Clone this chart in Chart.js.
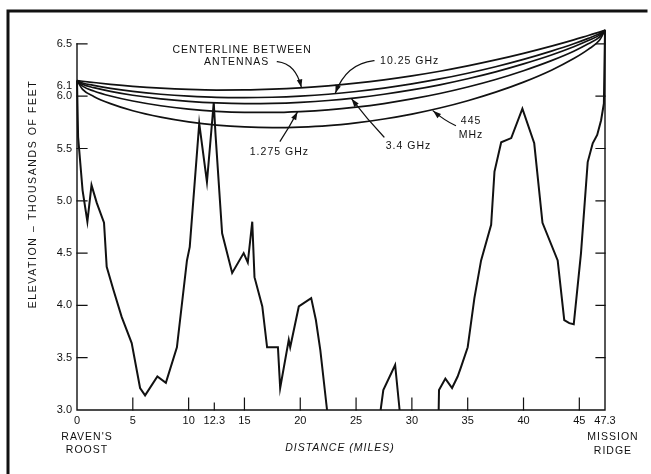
<!DOCTYPE html>
<html>
<head>
<meta charset="utf-8">
<script src="https://cdn.jsdelivr.net/npm/chart.js@4.4.1/dist/chart.umd.min.js"></script>
<style>
    html, body { margin: 0; padding: 0; background: #fff; }
    #wrap { width: 651px; height: 474px; position: relative; }
</style>
</head>
<body>
<div id="wrap"><canvas id="profile-chart"></canvas></div>
<script>
// ===== Data (distance in miles, elevation in thousands of feet) =====
const terrainMiles = [0, 0.1, 0.5, 0.93, 1.3, 1.77, 2.42, 2.66, 3.26, 4.0, 4.9, 5.65, 6.1, 7.2, 7.96, 8.95, 9.85, 10.1,
    10.95, 11.64, 12.25, 12.4, 13.0, 13.9, 14.93, 15.3, 15.7, 15.9, 16.6, 17.03, 18.0, 18.2, 18.97, 19.1, 19.87,
    20.98, 21.4, 21.8, 22.4, 25, 27.2, 27.44, 28.5, 28.9, 30.5, 32.4, 32.43, 33.0, 33.6, 34.1, 34.4, 35.0, 35.6,
    36.2, 37.1, 37.4, 38.0, 38.9, 39.9, 40.96, 41.7, 43.06, 43.65, 44.1, 44.5, 45.15, 45.75, 46.2, 46.6, 46.95,
    47.2, 47.3];
const terrainElev = [6.15, 5.61, 5.10, 4.80, 5.15, 4.98, 4.79, 4.37, 4.15, 3.89, 3.64, 3.21, 3.14, 3.32, 3.26, 3.60, 4.43, 4.56,
    5.74, 5.18, 5.94, 5.65, 4.69, 4.31, 4.50, 4.41, 4.80, 4.27, 3.99, 3.60, 3.60, 3.21, 3.67, 3.60, 3.99,
    4.07, 3.86, 3.57, 3.0, null, 3.0, 3.19, 3.43, 3.0, null, 3.0, 3.19, 3.30, 3.21, 3.32, 3.41, 3.60, 4.07,
    4.43, 4.77, 5.28, 5.56, 5.60, 5.88, 5.55, 4.79, 4.43, 3.86, 3.83, 3.82, 4.50, 5.37, 5.55, 5.63, 5.77,
    5.93, 6.63];

const beamMiles = [0, 0.5, 1.5, 3, 5, 7.5, 10, 12.5, 15, 17.5, 20, 22.5, 25, 27.5, 30, 32.5, 35, 37.5, 40, 42.5, 44.5, 45.8, 46.8, 47.3];
const centerline = [6.15, 6.143, 6.131, 6.114, 6.095, 6.077, 6.065, 6.059, 6.060, 6.067, 6.080, 6.099, 6.125, 6.157, 6.195, 6.239, 6.290, 6.347, 6.410, 6.479, 6.539, 6.581, 6.613, 6.63];
const zone10250 = [6.15, 6.127, 6.103, 6.075, 6.046, 6.019, 6.000, 5.988, 5.986, 5.990, 6.001, 6.019, 6.045, 6.078, 6.118, 6.165, 6.220, 6.282, 6.352, 6.431, 6.501, 6.553, 6.597, 6.63];
const zone3400 = [6.15, 6.114, 6.082, 6.046, 6.009, 5.975, 5.951, 5.936, 5.930, 5.932, 5.942, 5.959, 5.985, 6.019, 6.060, 6.109, 6.167, 6.233, 6.309, 6.394, 6.473, 6.532, 6.584, 6.63];
const zone1275 = [6.15, 6.096, 6.050, 6.002, 5.954, 5.909, 5.877, 5.856, 5.846, 5.845, 5.853, 5.869, 5.895, 5.930, 5.974, 6.026, 6.088, 6.160, 6.244, 6.340, 6.430, 6.501, 6.566, 6.63];
const zone445 = [6.15, 6.065, 5.998, 5.929, 5.861, 5.800, 5.755, 5.724, 5.706, 5.700, 5.705, 5.719, 5.746, 5.782, 5.829, 5.887, 5.957, 6.039, 6.135, 6.249, 6.360, 6.448, 6.535, 6.63];

const xTickValues = [0, 5, 10, 12.3, 15, 20, 25, 30, 35, 40, 45, 47.3];
const yTickValues = [3.0, 3.5, 4.0, 4.5, 5.0, 5.5, 6.0, 6.1, 6.5];
const sideTickValues = [3.5, 4.0, 4.5, 5.0, 5.5, 6.0, 6.5];

// curve labels and their leader arrows, in data units
const curveLabels = [
    { text: 'CENTERLINE BETWEEN', x: 14.8, y: 6.44 },
    { text: 'ANTENNAS', x: 14.3, y: 6.33 },
    { text: '10.25 GHz', x: 29.8, y: 6.34 },
    { text: '3.4 GHz', x: 29.7, y: 5.52 },
    { text: '1.275 GHz', x: 18.13, y: 5.47 },
    { text: '445', x: 35.3, y: 5.76 },
    { text: 'MHz', x: 35.3, y: 5.63 },
];
const leaderArrows = [
    { from: [17.95, 6.33], ctrl: [19.6, 6.31], to: [20.1, 6.085] },
    { from: [26.6, 6.34], ctrl: [24.1, 6.31], to: [23.15, 6.03] },
    { from: [27.5, 5.61], ctrl: [26.0, 5.78], to: [24.6, 5.975] },
    { from: [18.2, 5.57], ctrl: [19.0, 5.70], to: [19.75, 5.85] },
    { from: [33.9, 5.72], ctrl: [32.9, 5.77], to: [31.9, 5.86] },
];

const FONT = "'Liberation Sans', Arial, sans-serif";
const INK = '#111';

const toPoints = (xs, ys) => xs.map((x, i) => ({ x, y: ys[i] }));

const beamStyle = { borderColor: INK, borderWidth: 1.7, pointRadius: 0, tension: 0.4, cubicInterpolationMode: 'monotone', fill: false };

// ===== Hand-drawn look: frame, inward ticks, axis titles, leaders =====
const figurePlugin = {
    id: 'figure',
    beforeDraw(chart) {
        const { ctx } = chart;
        ctx.save();
        ctx.fillStyle = '#fff';
        ctx.fillRect(0, 0, chart.width, chart.height);
        ctx.restore();
    },
    afterDraw(chart) {
        const { ctx } = chart;
        const xs = chart.scales.x;
        const ys = chart.scales.y;
        const px = v => xs.getPixelForValue(v);
        const py = v => ys.getPixelForValue(v);

        ctx.save();
        ctx.strokeStyle = INK;
        ctx.fillStyle = INK;
        ctx.lineCap = 'square';

        // frame
        ctx.lineWidth = 3;
        ctx.beginPath();
        ctx.moveTo(8, 474);
        ctx.lineTo(8, 11);
        ctx.lineTo(646, 11);
        ctx.stroke();

        // axes
        ctx.lineWidth = 1.4;
        ctx.beginPath();
        ctx.moveTo(px(0), py(6.5));
        ctx.lineTo(px(0), py(3.0));
        ctx.lineTo(px(47.3), py(3.0));
        ctx.lineTo(px(47.3), py(6.63));
        ctx.stroke();

        ctx.lineWidth = 1.2;
        ctx.beginPath();
        sideTickValues.forEach(v => {
            ctx.moveTo(px(0), py(v));
            ctx.lineTo(px(0) + 10, py(v));
            ctx.moveTo(px(47.3), py(v));
            ctx.lineTo(px(47.3) - 9, py(v));
        });
        xTickValues.slice(1, -1).forEach(v => {
            ctx.moveTo(px(v), py(3.0));
            ctx.lineTo(px(v), py(3.0) - (v === 12.3 ? 7 : 12));
        });
        ctx.stroke();

        // leader arrows
        ctx.lineWidth = 1.2;
        leaderArrows.forEach(a => {
            const [fx, fy] = [px(a.from[0]), py(a.from[1])];
            const [cx, cy] = [px(a.ctrl[0]), py(a.ctrl[1])];
            const [tx, ty] = [px(a.to[0]), py(a.to[1])];
            ctx.beginPath();
            ctx.moveTo(fx, fy);
            ctx.quadraticCurveTo(cx, cy, tx, ty);
            ctx.stroke();
            const ang = Math.atan2(ty - cy, tx - cx);
            ctx.beginPath();
            ctx.moveTo(tx, ty);
            ctx.lineTo(tx - 8 * Math.cos(ang) + 2.8 * Math.sin(ang), ty - 8 * Math.sin(ang) - 2.8 * Math.cos(ang));
            ctx.lineTo(tx - 8 * Math.cos(ang) - 2.8 * Math.sin(ang), ty - 8 * Math.sin(ang) + 2.8 * Math.cos(ang));
            ctx.closePath();
            ctx.fill();
        });

        // texts
        ctx.textBaseline = 'middle';
        ctx.textAlign = 'center';
        ctx.font = `10.5px ${FONT}`;
        if ('letterSpacing' in ctx) ctx.letterSpacing = '1px';
        curveLabels.forEach(l => ctx.fillText(l.text, px(l.x), py(l.y)));

        ctx.fillText("RAVEN'S", px(0) + 10, 437);
        ctx.fillText('ROOST', px(0) + 10, 450);
        ctx.fillText('MISSION', px(47.3) + 8, 437);
        ctx.fillText('RIDGE', px(47.3) + 8, 451);
        ctx.font = `italic 10.5px ${FONT}`;
        ctx.fillText('DISTANCE (MILES)', 340, 448);

        ctx.font = `10.5px ${FONT}`;
        if ('letterSpacing' in ctx) ctx.letterSpacing = '1.6px';
        ctx.translate(33, 194);
        ctx.rotate(-Math.PI / 2);
        ctx.fillText('ELEVATION – THOUSANDS OF FEET', 0, 0);
        ctx.restore();
    }
};

// ===== Chart =====
const ctx = document.getElementById('profile-chart').getContext('2d');
new Chart(ctx, {
    type: 'line',
    data: {
        datasets: [
            { label: 'Terrain', data: toPoints(terrainMiles, terrainElev), borderColor: INK, borderWidth: 2, pointRadius: 0, tension: 0, spanGaps: false, fill: false },
            { label: 'Centerline between antennas', data: toPoints(beamMiles, centerline), ...beamStyle },
            { label: '10.25 GHz', data: toPoints(beamMiles, zone10250), ...beamStyle },
            { label: '3.4 GHz', data: toPoints(beamMiles, zone3400), ...beamStyle },
            { label: '1.275 GHz', data: toPoints(beamMiles, zone1275), ...beamStyle },
            { label: '445 MHz', data: toPoints(beamMiles, zone445), ...beamStyle },
        ]
    },
    options: {
        responsive: true,
        maintainAspectRatio: false,
        animation: false,
        clip: false,
        layout: { padding: { top: 23, right: 46, left: 0, bottom: 0 } },
        plugins: {
            legend: { display: false },
            tooltip: { enabled: false },
        },
        scales: {
            x: {
                type: 'linear',
                min: 0,
                max: 47.3,
                afterBuildTicks: s => { s.ticks = xTickValues.map(value => ({ value })); },
                afterFit: s => { s.height = 64; },
                grid: { display: false, drawTicks: false },
                border: { display: false },
                ticks: { color: INK, font: { family: FONT, size: 11 }, padding: 4, autoSkip: false, maxRotation: 0, callback: v => String(v) },
            },
            y: {
                type: 'linear',
                min: 3.0,
                max: 6.7,
                afterBuildTicks: s => { s.ticks = yTickValues.map(value => ({ value })); },
                afterFit: s => { s.width = 77; },
                grid: { display: false, drawTicks: false },
                border: { display: false },
                ticks: { color: INK, font: { family: FONT, size: 11 }, padding: 5, autoSkip: false, callback: v => v.toFixed(1) },
            }
        }
    },
    plugins: [figurePlugin]
});
</script>
</body>
</html>
